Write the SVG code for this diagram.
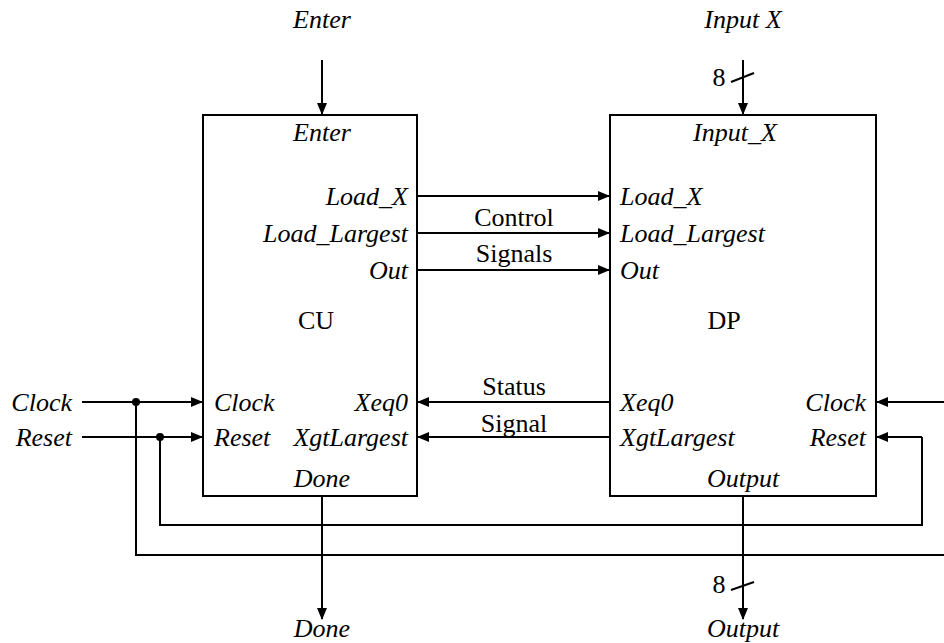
<svg xmlns="http://www.w3.org/2000/svg" width="944" height="643" viewBox="0 0 944 643" font-family="'Liberation Serif', Tinos, 'DejaVu Serif', serif">
<style>
text{font-family:'Liberation Serif', Tinos, 'DejaVu Serif', serif;font-size:26px;fill:#000}
.i{font-style:italic}
.m{text-anchor:middle}
.e{text-anchor:end}
.box{fill:#fff;stroke:#000;stroke-width:2}
.w{fill:none;stroke:#000;stroke-width:2}
.a{marker-end:url(#ah)}
</style>
<defs>
<marker id="ah" markerWidth="12" markerHeight="10" refX="11" refY="5" orient="auto" markerUnits="userSpaceOnUse">
<path d="M0,0 L12,5 L0,10 Z" fill="#000"/>
</marker>
</defs>
<g id="connectors">
<path class="w a" d="M322,60 V114"/>
<path class="w a" d="M743,60 V114"/>
<path class="w" d="M731,82 L754,73"/>
<path class="w a" d="M417,196 H609"/>
<path class="w a" d="M417,233 H609"/>
<path class="w a" d="M417,270 H609"/>
<path class="w a" d="M610,402 H418"/>
<path class="w a" d="M610,437 H418"/>
<path class="w a" d="M82,402 H202"/>
<path class="w a" d="M82,437 H202"/>
<path class="w" d="M136,402 V555 H946"/>
<path class="w" d="M160,437 V525 H922 V437"/>
<path class="w a" d="M922,437 H877"/>
<path class="w a" d="M946,402 H877"/>
<circle cx="136" cy="402" r="4" fill="#000"/>
<circle cx="160" cy="437" r="4" fill="#000"/>
<path class="w a" d="M322,496 V619"/>
<path class="w a" d="M743,496 V619"/>
<path class="w" d="M731,590 L754,582"/>
</g>
<g id="CU">
<rect class="box" x="203" y="115" width="214" height="381"/>
<text class="i m" x="322" y="141">Enter</text>
<text class="i e" x="408" y="205">Load_X</text>
<text class="i e" x="408" y="242">Load_Largest</text>
<text class="i e" x="408" y="279">Out</text>
<text class="m" x="316" y="329">CU</text>
<text class="i" x="214" y="411">Clock</text>
<text class="i" x="214" y="446">Reset</text>
<text class="i e" x="408" y="411">Xeq0</text>
<text class="i e" x="408" y="446">XgtLargest</text>
<text class="i m" x="322" y="487">Done</text>
</g>
<g id="DP">
<rect class="box" x="610" y="115" width="266" height="381"/>
<text class="i m" x="735" y="141">Input_X</text>
<text class="i" x="620" y="205">Load_X</text>
<text class="i" x="620" y="242">Load_Largest</text>
<text class="i" x="620" y="279">Out</text>
<text class="m" x="724" y="329">DP</text>
<text class="i" x="620" y="411">Xeq0</text>
<text class="i" x="620" y="446">XgtLargest</text>
<text class="i e" x="866" y="411">Clock</text>
<text class="i e" x="866" y="446">Reset</text>
<text class="i m" x="743" y="487">Output</text>
</g>
<g id="labels">
<text class="i m" x="322" y="28">Enter</text>
<text class="i m" x="743" y="28">Input X</text>
<text x="719" y="86" class="m">8</text>
<text class="m" x="514" y="226">Control</text>
<text class="m" x="514" y="262">Signals</text>
<text class="m" x="514" y="395">Status</text>
<text class="m" x="514" y="432">Signal</text>
<text class="i e" x="72" y="411">Clock</text>
<text class="i e" x="72" y="446">Reset</text>
<text x="719" y="593" class="m">8</text>
<text class="i m" x="322" y="637">Done</text>
<text class="i m" x="743" y="637">Output</text>
</g>
</svg>
